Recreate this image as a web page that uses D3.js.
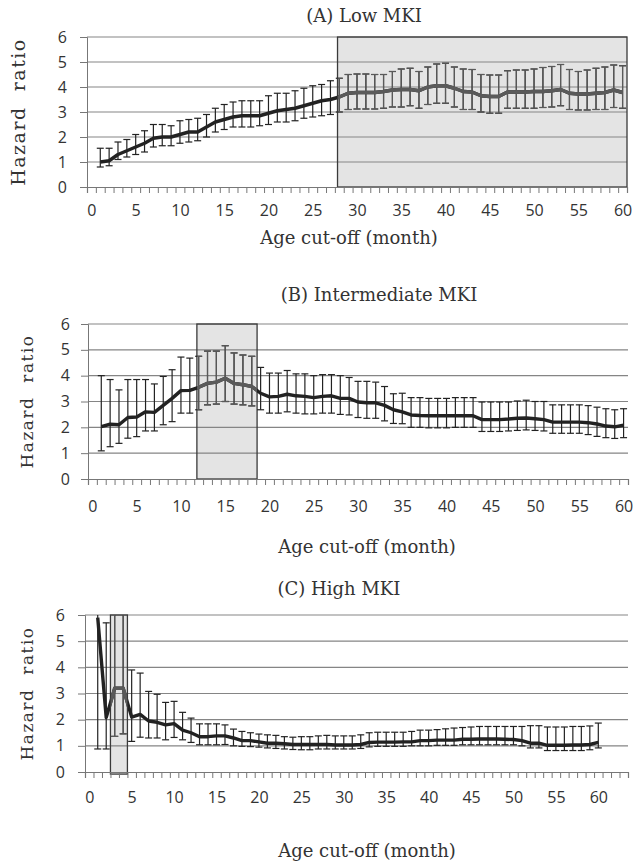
<!DOCTYPE html>
<html>
<head>
<meta charset="utf-8">
<script src="https://cdn.jsdelivr.net/npm/d3@7"></script>
<style>
body { margin: 0; background: #fff; }
svg { display: block; }
</style>
</head>
<body>
<script>
// hazard ratio by age cut-off, one panel per MKI group
// values read off the figure by eye, so they're approximate

var months = [1,2,3,4,5,6,7,8,9,10,11,12,13,14,15,16,17,18,19,20,
              21,22,23,24,25,26,27,28,29,30,31,32,33,34,35,36,37,38,39,40,
              41,42,43,44,45,46,47,48,49,50,51,52,53,54,55,56,57,58,59,60];

// (A) low MKI
var lowHR    = [1.0,1.05,1.3,1.45,1.6,1.75,1.95,2.0,2.0,2.1,2.2,2.2,2.4,2.6,2.7,2.8,2.85,2.85,2.85,2.95,
                3.05,3.1,3.15,3.25,3.35,3.45,3.5,3.6,3.75,3.78,3.78,3.78,3.82,3.88,3.9,3.9,3.85,4.0,4.05,4.05,
                3.95,3.82,3.8,3.65,3.62,3.62,3.8,3.8,3.8,3.82,3.82,3.85,3.9,3.75,3.72,3.72,3.75,3.78,3.88,3.78];
var lowUpper = [1.55,1.55,1.8,1.9,2.1,2.25,2.5,2.5,2.45,2.65,2.7,2.75,2.9,3.15,3.3,3.4,3.45,3.45,3.45,3.65,
                3.75,3.75,3.85,3.95,4.05,4.1,4.25,4.35,4.5,4.52,4.52,4.5,4.5,4.62,4.72,4.75,4.62,4.8,4.92,4.95,
                4.8,4.72,4.7,4.5,4.48,4.48,4.65,4.68,4.68,4.72,4.78,4.82,4.9,4.7,4.62,4.68,4.75,4.8,4.88,4.85];
var lowLower = [0.8,0.85,1.1,1.2,1.3,1.4,1.6,1.65,1.65,1.75,1.8,1.85,2.0,2.2,2.3,2.4,2.4,2.4,2.45,2.5,
                2.6,2.6,2.65,2.75,2.8,2.85,2.9,3.0,3.1,3.12,3.12,3.12,3.15,3.2,3.2,3.25,3.15,3.3,3.35,3.35,
                3.2,3.1,3.1,3.0,2.95,2.95,3.15,3.15,3.15,3.15,3.18,3.2,3.25,3.1,3.08,3.08,3.1,3.1,3.18,3.15];

// (B) intermediate MKI
var midHR    = [2.03,2.12,2.1,2.38,2.4,2.6,2.58,2.85,3.12,3.42,3.43,3.55,3.7,3.75,3.9,3.7,3.65,3.58,3.32,3.18,
                3.2,3.28,3.22,3.2,3.15,3.2,3.22,3.12,3.12,2.98,2.95,2.95,2.85,2.68,2.6,2.48,2.46,2.45,2.45,2.45,
                2.45,2.45,2.45,2.3,2.3,2.3,2.32,2.35,2.36,2.33,2.3,2.2,2.2,2.2,2.2,2.18,2.13,2.05,2.02,2.08];
var midUpper = [4.0,3.85,3.45,3.85,3.85,3.85,3.68,3.97,4.23,4.72,4.68,4.75,4.95,4.95,5.16,4.88,4.8,4.75,4.32,4.1,
                4.1,4.2,4.07,4.07,4.0,4.04,4.04,4.0,3.93,3.78,3.78,3.75,3.58,3.3,3.32,3.15,3.15,3.12,3.12,3.12,
                3.15,3.15,3.15,2.98,2.98,2.98,2.98,3.02,3.05,3.0,3.0,2.87,2.87,2.87,2.87,2.84,2.78,2.72,2.68,2.72];
var midLower = [1.09,1.25,1.38,1.58,1.64,1.86,1.86,2.1,2.22,2.55,2.55,2.68,2.87,2.9,3.0,2.9,2.87,2.83,2.68,2.55,
                2.55,2.6,2.55,2.52,2.52,2.55,2.55,2.5,2.48,2.38,2.35,2.35,2.25,2.15,2.14,2.0,2.0,1.98,1.98,1.98,
                2.0,2.0,2.0,1.84,1.84,1.84,1.86,1.88,1.9,1.88,1.86,1.77,1.77,1.77,1.77,1.72,1.65,1.6,1.57,1.6];

// (C) high MKI  (first few upper limits run off the top of the chart)
var highHR    = [5.9,2.08,3.2,3.2,2.1,2.2,1.95,1.9,1.8,1.85,1.6,1.5,1.35,1.35,1.38,1.38,1.3,1.2,1.2,1.15,
                 1.1,1.1,1.08,1.05,1.05,1.05,1.05,1.05,1.03,1.03,1.03,1.05,1.13,1.14,1.14,1.14,1.15,1.15,1.2,1.2,
                 1.22,1.22,1.22,1.25,1.25,1.26,1.26,1.26,1.25,1.24,1.2,1.1,1.1,1.02,1.02,1.02,1.03,1.03,1.05,1.13];
var highUpper = [6.6,5.7,6.8,6.8,3.9,3.78,3.08,2.97,2.66,2.7,2.28,2.06,1.84,1.84,1.84,1.8,1.64,1.55,1.5,1.45,
                 1.42,1.4,1.35,1.33,1.35,1.35,1.38,1.4,1.38,1.38,1.38,1.42,1.5,1.52,1.52,1.52,1.52,1.55,1.6,1.6,
                 1.62,1.65,1.68,1.7,1.72,1.74,1.74,1.74,1.74,1.74,1.74,1.77,1.77,1.72,1.72,1.72,1.74,1.74,1.76,1.87];
var highLower = [0.88,0.88,1.36,1.46,1.17,1.33,1.3,1.3,1.23,1.32,1.23,1.13,1.04,1.04,1.04,1.05,1.0,0.98,0.97,0.95,
                 0.92,0.9,0.88,0.86,0.85,0.85,0.88,0.88,0.88,0.88,0.88,0.9,0.96,0.98,0.98,0.98,0.98,1.0,1.0,1.0,
                 1.02,1.02,1.02,1.04,1.04,1.04,1.04,1.04,1.04,1.04,1.0,0.92,0.92,0.82,0.82,0.82,0.82,0.82,0.85,0.92];

// shaded month ranges
var lowShade  = [27.8, 60.5];
var midShade  = [11.8, 18.6];
var highShade = [2.5, 4.5];

var yTicks  = [0,1,2,3,4,5,6];
var xLabels = [0,5,10,15,20,25,30,35,40,45,50,55,60];
var panelTitles = ['(A) Low MKI', '(B) Intermediate MKI', '(C) High MKI'];
var xTitle = 'Age cut-off (month)';
var yTitle = 'Hazard  ratio';

var W = 634, H = 865;
var svg = d3.select('body').append('svg').attr('width', W).attr('height', H);

var serif = '"DejaVu Serif", serif';
var sans = '"Open Sans", "Noto Sans", sans-serif';
var ink = '#333';

function drawPanel(p, idx){
    var g = svg.append('g');
    var x = d3.scaleLinear().domain([-0.5, p.xMax]).range([p.left, p.right]);
    var y = d3.scaleLinear().domain([0, 6]).range([p.bottom, p.top]);

    // shaded box behind everything
    var bx0 = x(p.shade[0]), bx1 = x(p.shade[1]);
    var by0 = y(6), by1 = y(p.shadeBottom);
    g.append('rect')
        .attr('x', bx0).attr('y', by0)
        .attr('width', bx1 - bx0).attr('height', by1 - by0)
        .attr('fill', '#e4e4e4');

    // gridlines
    g.append('g').selectAll('line').data(yTicks.slice(1)).join('line')
        .attr('x1', p.left).attr('x2', p.right)
        .attr('y1', d => y(d)).attr('y2', d => y(d))
        .attr('stroke', '#858585').attr('stroke-width', 1.2);

    g.append('rect')
        .attr('x', bx0).attr('y', by0)
        .attr('width', bx1 - bx0).attr('height', by1 - by0)
        .attr('fill', 'none').attr('stroke', '#3a3a3a').attr('stroke-width', 1.3);

    // y axis
    var yAxis = g.append('g').attr('transform', `translate(${p.left},0)`)
        .call(d3.axisLeft(y).tickValues(yTicks).tickFormat(d3.format('d')).tickSize(7).tickPadding(p.yPad));
    yAxis.select('.domain').attr('stroke', '#777');
    yAxis.selectAll('.tick line').attr('stroke', '#777');
    yAxis.selectAll('text').attr('fill', ink).style('font-family', sans).style('font-size', '16px');

    // x axis: little ticks between the months, labels every 5
    var bounds = d3.range(-0.5, p.xMax + 0.01, 1);
    var xMinor = g.append('g').attr('transform', `translate(0,${p.bottom})`)
        .call(d3.axisBottom(x).tickValues(bounds).tickSize(6).tickFormat(''));
    xMinor.select('.domain').attr('stroke', '#777').attr('stroke-width', 1.2);
    xMinor.selectAll('.tick line').attr('stroke', '#777');

    var xLab = g.append('g').attr('transform', `translate(0,${p.bottom})`)
        .call(d3.axisBottom(x).tickValues(xLabels).tickSize(0).tickPadding(p.xPad));
    xLab.select('.domain').remove();
    xLab.selectAll('text').attr('fill', ink).style('font-family', sans).style('font-size', '16px');

    // titles
    g.append('text').attr('x', p.titleX).attr('y', p.titleY)
        .attr('text-anchor', 'middle').attr('fill', ink)
        .style('font-family', serif).style('font-size', '18px')
        .text(panelTitles[idx]);
    g.append('text').attr('x', p.xTitleX).attr('y', p.xTitleY)
        .attr('text-anchor', 'middle').attr('fill', ink)
        .style('font-family', serif).style('font-size', '18px')
        .text(xTitle);
    g.append('text')
        .attr('transform', `translate(${p.yTitleX},${(p.top + p.bottom) / 2}) rotate(-90)`)
        .attr('text-anchor', 'middle').attr('fill', ink)
        .style('font-family', serif).style('font-size', p.yTitleSize + 'px')
        .style('letter-spacing', '1.5px').style('white-space', 'pre')
        .text(yTitle);

    // clip to plot area so runaway CIs stop at 6
    var clipId = 'plot' + idx, boxId = 'box' + idx;
    var defs = svg.append('defs');
    defs.append('clipPath').attr('id', clipId).append('rect')
        .attr('x', p.left - 10).attr('y', p.top).attr('width', p.right - p.left + 20).attr('height', p.bottom - p.top + 10);
    defs.append('clipPath').attr('id', boxId).append('rect')
        .attr('x', bx0).attr('y', by0).attr('width', bx1 - bx0).attr('height', by1 - by0);

    var pts = months.map((m, i) => ({m: m, hr: p.hr[i], up: p.up[i], lo: p.lo[i]}));
    var line = d3.line().x(d => x(d.m)).y(d => y(d.hr));

    function marks(target, col){
        var eb = target.append('g').attr('stroke', col).attr('stroke-width', 1.2);
        eb.selectAll('.v').data(pts).join('line').attr('class', 'v')
            .attr('x1', d => x(d.m)).attr('x2', d => x(d.m))
            .attr('y1', d => y(d.lo)).attr('y2', d => y(d.up));
        eb.selectAll('.u').data(pts).join('line').attr('class', 'u')
            .attr('x1', d => x(d.m) - 3.5).attr('x2', d => x(d.m) + 3.5)
            .attr('y1', d => y(d.up)).attr('y2', d => y(d.up));
        eb.selectAll('.l').data(pts).join('line').attr('class', 'l')
            .attr('x1', d => x(d.m) - 3.5).attr('x2', d => x(d.m) + 3.5)
            .attr('y1', d => y(d.lo)).attr('y2', d => y(d.lo));
        target.append('path').datum(pts)
            .attr('d', line).attr('fill', 'none')
            .attr('stroke', col).attr('stroke-width', 3.4)
            .attr('stroke-linejoin', 'round');
    }

    var dark = g.append('g').attr('clip-path', `url(#${clipId})`);
    marks(dark, '#222');
    // the part inside the shaded box is drawn lighter
    var light = g.append('g').attr('clip-path', `url(#${boxId})`);
    marks(light, '#5a5a5a');
}

var panels = [
    {hr: lowHR, up: lowUpper, lo: lowLower, shade: lowShade, shadeBottom: 0,
     left: 87, right: 627, top: 37, bottom: 187, xMax: 60.5, yPad: 13, xPad: 18,
     titleX: 364, titleY: 22, xTitleX: 349, xTitleY: 244, yTitleX: 25, yTitleSize: 19},
    {hr: midHR, up: midUpper, lo: midLower, shade: midShade, shadeBottom: 0,
     left: 88, right: 628, top: 324, bottom: 479, xMax: 60.5, yPad: 11, xPad: 22,
     titleX: 379, titleY: 301, xTitleX: 367, xTitleY: 553, yTitleX: 33, yTitleSize: 17},
    {hr: highHR, up: highUpper, lo: highLower, shade: highShade, shadeBottom: -0.08,
     left: 85, right: 628, top: 615, bottom: 772, xMax: 63.5, yPad: 13, xPad: 20,
     titleX: 339, titleY: 595, xTitleX: 367, xTitleY: 857, yTitleX: 33, yTitleSize: 17}
];

panels.forEach(drawPanel);
</script>
</body>
</html>
